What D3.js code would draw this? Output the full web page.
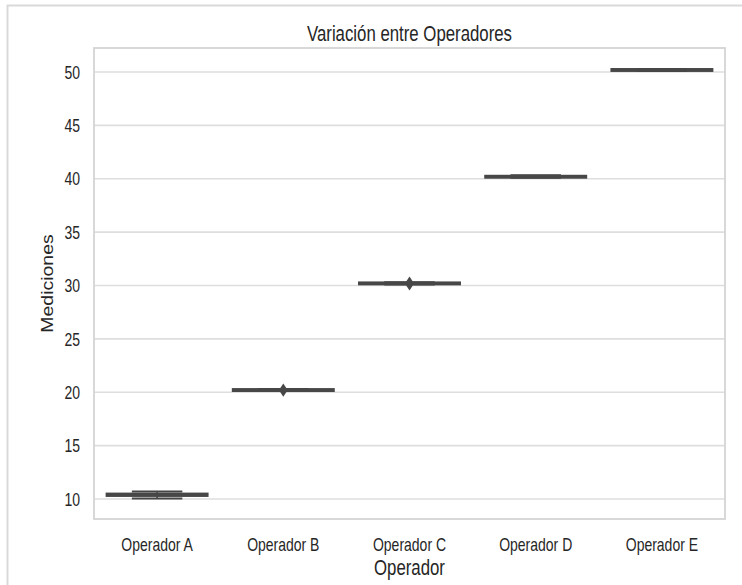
<!DOCTYPE html>
<html>
<head>
<meta charset="utf-8">
<script src="https://cdn.jsdelivr.net/npm/d3@7"></script>
<style>
  html, body { margin: 0; padding: 0; background: #ffffff; }
  svg { display: block; font-family: "Liberation Sans", Arial, sans-serif; }
</style>
</head>
<body>
<svg id="chart" width="742" height="585"></svg>
<script>
// Box-plot summaries of the measurements taken by each operator
const operators   = ["Operador A", "Operador B", "Operador C", "Operador D", "Operador E"];
const whiskerLow  = [10.05, 20.11, 30.10, 40.10, 50.10];
const quartile1   = [10.29, 20.12, 30.11, 40.10, 50.10];
const medians     = [10.40, 20.21, 30.20, 40.19, 50.19];
const quartile3   = [10.51, 20.30, 30.29, 40.28, 50.28];
const whiskerHigh = [10.70, 20.31, 30.30, 40.34, 50.28];
const outliers    = [[], [20.06, 20.36], [30.0, 30.38], [], []];
const yTicks      = [10, 15, 20, 25, 30, 35, 40, 45, 50];

const title  = "Variación entre Operadores";
const xTitle = "Operador";
const yTitle = "Mediciones";

const svg = d3.select("#chart");
const plot = { left: 94, right: 725, top: 48, bottom: 519 };
const stretch = 1.3;            // text is drawn taller than wide
const ink = "#262626";
const boxInk = "#474747";
const gridInk = "#dedede";

// outer frame
svg.append("path")
  .attr("d", "M7.5,585V5.5H742")
  .attr("fill", "none")
  .attr("stroke", "#d9d9d9")
  .attr("stroke-width", 2);

const x = d3.scaleBand().domain(operators).range([plot.left, plot.right]);
const y = d3.scaleLinear().domain([8.13, 52.25]).range([plot.bottom, plot.top]);

// horizontal grid
svg.append("g").selectAll("line").data(yTicks).join("line")
  .attr("x1", plot.left).attr("x2", plot.right)
  .attr("y1", d => y(d)).attr("y2", d => y(d))
  .attr("stroke", gridInk).attr("stroke-width", 1.6);

// plot frame
svg.append("rect")
  .attr("x", plot.left).attr("y", plot.top)
  .attr("width", plot.right - plot.left).attr("height", plot.bottom - plot.top)
  .attr("fill", "none").attr("stroke", "#d4d4d4").attr("stroke-width", 1.8);

// stretched text helper
function label(sel, tx, ty, txt, size, rot, sy) {
  const g = sel.append("g").attr("transform", `translate(${tx},${ty}) scale(1,${sy || stretch})` + (rot ? ` rotate(${rot})` : ""));
  return g.append("text").text(txt)
    .attr("font-size", size).attr("fill", ink)
    .attr("dominant-baseline", "central");
}

// y tick labels
yTicks.forEach(t => label(svg, 80, y(t), String(t), 14).attr("text-anchor", "end"));

// x tick labels
operators.forEach(o => label(svg, x(o) + x.bandwidth() / 2, 544, o, 14).attr("text-anchor", "middle"));

// axis titles and chart title
label(svg, (plot.left + plot.right) / 2, 567, xTitle, 16.8).attr("text-anchor", "middle");
label(svg, 48, (plot.top + plot.bottom) / 2, yTitle, 16.5, -90, 1.18).attr("text-anchor", "middle");
label(svg, (plot.left + plot.right) / 2, 33, title, 16.8).attr("text-anchor", "middle");

// boxes
const boxW = x.bandwidth() * 0.8;
const capW = boxW * 0.5;
const boxes = svg.append("g");
operators.forEach((o, i) => {
  const cx = x(o) + x.bandwidth() / 2;
  const g = boxes.append("g");
  // whiskers
  g.append("line").attr("x1", cx).attr("x2", cx)
    .attr("y1", y(whiskerLow[i])).attr("y2", y(quartile1[i]))
    .attr("stroke", boxInk).attr("stroke-width", 1.6);
  g.append("line").attr("x1", cx).attr("x2", cx)
    .attr("y1", y(quartile3[i])).attr("y2", y(whiskerHigh[i]))
    .attr("stroke", boxInk).attr("stroke-width", 1.6);
  // caps
  [whiskerLow[i], whiskerHigh[i]].forEach(v => {
    g.append("line").attr("x1", cx - capW / 2).attr("x2", cx + capW / 2)
      .attr("y1", y(v)).attr("y2", y(v))
      .attr("stroke", boxInk).attr("stroke-width", 2);
  });
  // box
  g.append("rect")
    .attr("x", cx - boxW / 2).attr("width", boxW)
    .attr("y", y(quartile3[i])).attr("height", y(quartile1[i]) - y(quartile3[i]))
    .attr("fill", "#555555").attr("stroke", boxInk).attr("stroke-width", 2);
  // median
  g.append("line").attr("x1", cx - boxW / 2).attr("x2", cx + boxW / 2)
    .attr("y1", y(medians[i])).attr("y2", y(medians[i]))
    .attr("stroke", boxInk).attr("stroke-width", 2);
  // outliers as thin diamonds
  g.selectAll("path").data(outliers[i]).join("path")
    .attr("transform", d => `translate(${cx},${y(d)})`)
    .attr("d", "M0,-5L3.3,0L0,5L-3.3,0Z")
    .attr("fill", boxInk);
});
</script>
</body>
</html>
